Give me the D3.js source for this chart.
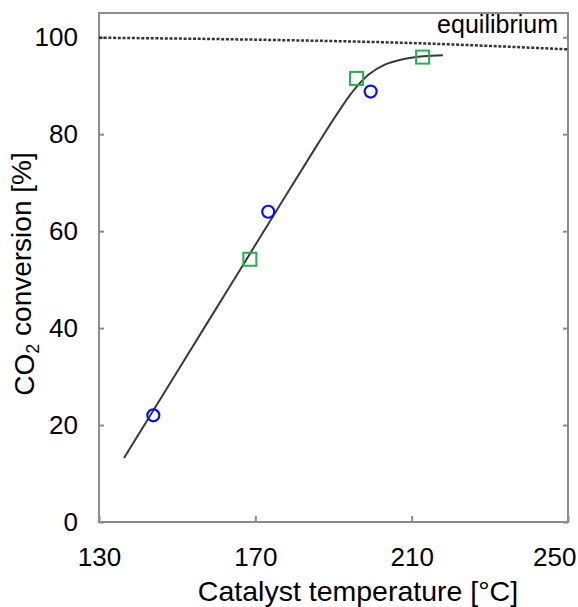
<!DOCTYPE html>
<html>
<head>
<meta charset="utf-8">
<script src="https://cdn.jsdelivr.net/npm/d3@7"></script>
<style>
  body { margin: 0; background: #fff; }
  text { font-family: "Liberation Sans", Arial, sans-serif; fill: #000; }
  .frame line, .frame path { stroke: #8c8c8c; }
</style>
</head>
<body>
<svg id="chart"></svg>
<script>
const circleTemp = [143.9, 173.3, 199.5];
const circleConv = [22.0, 64.0, 88.8];

const squareTemp = [168.6, 195.9, 212.8];
const squareConv = [54.2, 91.5, 95.9];

// Fitted curve through the data
const fitTemp = [136.4, 150, 165, 178, 186, 191, 195, 199, 203, 208, 213, 218];
const fitConv = [13.2, 31.0, 50.6, 67.6, 78.0, 84.3, 88.9, 92.3, 94.3, 95.5, 96.1, 96.3];

// Equilibrium conversion
const eqTemp = [130, 170, 210, 250];
const eqConv = [99.9, 99.5, 98.8, 97.5];

const xTicks = [130, 170, 210, 250];
const yTicks = [0, 20, 40, 60, 80, 100];

const zip = (xs, ys) => xs.map((x, i) => [x, ys[i]]);

const config = {
  containerWidth: 578,
  containerHeight: 607,
  margin: {top: 13, right: 10, bottom: 85, left: 99}
};

const width = config.containerWidth - config.margin.left - config.margin.right;
const height = config.containerHeight - config.margin.top - config.margin.bottom;

const svg = d3.select('#chart')
    .attr('width', config.containerWidth)
    .attr('height', config.containerHeight);

const chart = svg.append('g')
    .attr('transform', `translate(${config.margin.left},${config.margin.top})`);

const xScale = d3.scaleLinear().domain([130, 250]).range([0, width]);
const yScale = d3.scaleLinear().domain([0, 105]).range([height, 0]);

// Frame
chart.append('rect')
    .attr('width', width)
    .attr('height', height)
    .attr('fill', 'none')
    .attr('stroke', '#8c8c8c')
    .attr('stroke-width', 2);

// Axes (inner ticks, labels outside)
const xAxisG = chart.append('g')
    .attr('class', 'frame')
    .attr('transform', `translate(0,${height})`)
    .call(d3.axisBottom(xScale).tickValues(xTicks).tickSize(-6).tickPadding(26).tickSizeOuter(0));

const yAxisG = chart.append('g')
    .attr('class', 'frame')
    .call(d3.axisLeft(yScale).tickValues(yTicks).tickSize(-5).tickPadding(21).tickSizeOuter(0));

chart.append('g')
    .attr('class', 'frame')
    .attr('transform', `translate(${width},0)`)
    .call(d3.axisRight(yScale).tickValues(yTicks).tickSize(-5).tickFormat('').tickSizeOuter(0));

svg.selectAll('.frame .domain').remove();
svg.selectAll('.frame line').attr('stroke-width', 2);

xAxisG.selectAll('text')
    .style('font-size', '26px');
xAxisG.selectAll('.tick:last-of-type text')
    .attr('text-anchor', 'end')
    .attr('dx', 8);

yAxisG.selectAll('text')
    .style('font-size', '26px');
yAxisG.selectAll('.tick:last-of-type line')
    .attr('stroke', '#000');

// Equilibrium line
chart.append('path')
    .datum(zip(eqTemp, eqConv))
    .attr('fill', 'none')
    .attr('stroke', '#333')
    .attr('stroke-width', 2.5)
    .attr('stroke-dasharray', '3,1.7')
    .attr('d', d3.line()
      .x(d => xScale(d[0]))
      .y(d => yScale(d[1]))
      .curve(d3.curveMonotoneX));

chart.append('text')
    .attr('x', width - 10)
    .attr('y', 20)
    .attr('text-anchor', 'end')
    .style('font-size', '25px')
    .text('equilibrium');

// Fit curve
chart.append('path')
    .datum(zip(fitTemp, fitConv))
    .attr('fill', 'none')
    .attr('stroke', '#3a3a3a')
    .attr('stroke-width', 2)
    .attr('d', d3.line()
      .x(d => xScale(d[0]))
      .y(d => yScale(d[1]))
      .curve(d3.curveCatmullRom.alpha(0.5)));

// Markers
chart.selectAll('.sq')
    .data(zip(squareTemp, squareConv))
  .join('rect')
    .attr('class', 'sq')
    .attr('x', d => xScale(d[0]) - 6.5)
    .attr('y', d => yScale(d[1]) - 6.5)
    .attr('width', 13)
    .attr('height', 13)
    .attr('fill', 'none')
    .attr('stroke', '#22b14c')
    .attr('stroke-width', 2);

chart.selectAll('.circ')
    .data(zip(circleTemp, circleConv))
  .join('circle')
    .attr('class', 'circ')
    .attr('cx', d => xScale(d[0]))
    .attr('cy', d => yScale(d[1]))
    .attr('r', 6)
    .attr('fill', 'none')
    .attr('stroke', '#0a0aff')
    .attr('stroke-width', 2.2);

// Axis titles
svg.append('text')
    .attr('x', 358)
    .attr('y', 601)
    .attr('text-anchor', 'middle')
    .style('font-size', '28.5px')
    .text('Catalyst temperature [°C]');

const yLabel = svg.append('text')
    .attr('transform', 'translate(34,274) rotate(-90)')
    .attr('text-anchor', 'middle')
    .style('font-size', '28px');
yLabel.append('tspan').text('CO');
yLabel.append('tspan').attr('dy', '0.3em').style('font-size', '18px').text('2');
yLabel.append('tspan').attr('dy', '-0.3em').text(' conversion [%]');
</script>
</body>
</html>
